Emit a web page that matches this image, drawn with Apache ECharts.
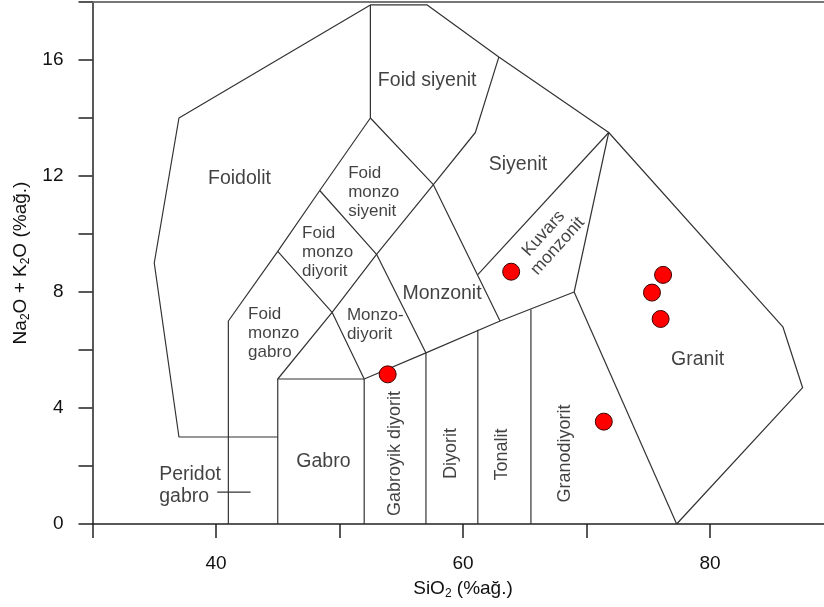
<!DOCTYPE html>
<html>
<head>
<meta charset="utf-8">
<script src="https://cdn.jsdelivr.net/npm/echarts@6/dist/echarts.min.js"></script>
<style>
  html,body{margin:0;padding:0;background:#fff;}
  .demo{width:824px;height:607px;}
</style>
</head>
<body>
<div class="demo"></div>
<script>
(function(){
  // field boundaries (SiO2, Na2O+K2O)
  const outerLine = [[77.3,0],[87.5,4.7],[85.9,6.8],[71.8,13.5],[62.9,16.1],[57.1,17.9],[52.5,17.9],[37,14],[35,9],[37,3],[45,3]]
  const foidLine1 = [[41,0],[41,7],[45,9.4],[48.4,11.5],[52.5,14],[52.5,17.9]]
  const foidLine2 = [[45,0],[45,5],[49.4,7.3],[53,9.3],[57.6,11.7],[61,13.5],[62.9,16.1]]
  const syeniteLine = [[52.5,14],[57.6,11.7],[63,7]]
  const monzoLine1 = [[45,9.4],[49.4,7.3],[52,5]]
  const monzoLine2 = [[48.4,11.5],[53,9.3],[57,5.9]]
  const baseLine = [[45,5],[52,5],[57,5.9],[63,7],[69,8],[71.8,13.5]]
  const gabroLine = [[52,0],[52,5]]
  const dioriteLine = [[57,0],[57,5.9]]
  const tonaliteLine = [[61.2,0],[61.2,6.7]]
  const granodioriteLine = [[65.5,0],[65.5,7.4]]
  const graniteLine = [[69,8],[77.3,0]]
  const qmonzLine = [[61.2,8.6],[71.8,13.5]]
  const peridotTick = [[40.1,1.1],[42.8,1.1]]
  const boundaries = [outerLine,foidLine1,foidLine2,syeniteLine,monzoLine1,monzoLine2,baseLine,
    gabroLine,dioriteLine,tonaliteLine,granodioriteLine,graniteLine,qmonzLine,peridotTick]

  // samples
  const sampleSiO2 = [63.9,53.9,76.2,75.3,76.0,71.4]
  const sampleAlkali = [8.7,5.16,8.59,7.98,7.07,3.53]

  // field names
  const bigNames = ['Foidolit','Foid siyenit','Siyenit','Monzonit','Gabro','Granit']
  const bigPos = [[41.9,11.9],[57.1,15.3],[64.45,12.38],[58.3,7.93],[48.7,2.14],[79.0,5.66]]
  const stackNames = ['Foid\nmonzo\nsiyenit','Foid\nmonzo\ndiyorit','Foid\nmonzo\ngabro','Monzo-\ndiyorit']
  const stackPos = [[50.7,11.45],[46.97,9.38],[42.6,6.59],[50.6,6.88]]
  const peridotName = 'Peridot\ngabro'
  const peridotPos = [35.4,1.31]
  const uprightNames = ['Gabroyik diyorit','Diyorit','Tonalit','Granodiyorit']
  const uprightPos = [[54.5,2.43],[59.0,2.43],[63.2,2.4],[68.3,2.43]]
  const slantName = 'Kuvars\nmonzonit'
  const slantPos = [67.1,9.8]

  const font = "'Liberation Sans', Arial, sans-serif"
  const ink = '#111'
  const chartinstance = echarts.init(document.querySelector('.demo'))

  const series = boundaries.map(b => ({
    type:'line',
    data:b,
    showSymbol:false,
    silent:true,
    lineStyle:{color:'#333',width:1.2},
    z:2
  }))

  const labelData = []
  bigNames.forEach((n,i)=>labelData.push({name:n,value:bigPos[i],label:{fontSize:19.5,position:'inside'}}))
  stackNames.forEach((n,i)=>labelData.push({name:n,value:stackPos[i],label:{fontSize:17,lineHeight:19,position:'right',distance:0,align:'left'}}))
  labelData.push({name:peridotName,value:peridotPos,label:{fontSize:19.5,lineHeight:22,position:'right',distance:0,align:'left'}})
  uprightNames.forEach((n,i)=>labelData.push({name:n,value:uprightPos[i],label:{fontSize:18,position:'inside',rotate:90}}))
  labelData.push({name:slantName,value:slantPos,label:{fontSize:17.5,lineHeight:19,position:'inside',rotate:48}})

  series.push({
    type:'scatter',
    data:labelData,
    symbolSize:0,
    silent:true,
    label:{show:true,formatter:p=>p.name,color:ink,fontFamily:font},
    z:3
  })

  series.push({
    type:'scatter',
    data:sampleSiO2.map((x,i)=>[x,sampleAlkali[i]]),
    symbolSize:17,
    itemStyle:{color:'#ff0000',borderColor:'#3a0000',borderWidth:1,opacity:1},
    z:5
  })

  const subStyle = {fontSize:12,lineHeight:12,verticalAlign:'bottom',color:ink,fontFamily:font}
  const option = {
    animation:false,
    grid:{left:92.5,right:-9.5,top:2,bottom:83,containLabel:false,outerBoundsMode:'none'},
    xAxis:[{
      type:'value',
      min:30,max:90,interval:10,
      name:'SiO{sub|2} (%ağ.)',
      nameLocation:'middle',
      nameGap:50,
      nameTextStyle:{fontSize:19,lineHeight:22,color:ink,fontFamily:font,rich:{sub:subStyle}},
      axisLine:{lineStyle:{color:'#222',width:1.5}},
      axisTick:{length:14,lineStyle:{color:'#222',width:1.5}},
      axisLabel:{margin:30,fontSize:19,color:ink,fontFamily:font,formatter:v=>v%20===0?String(v):''},
      splitLine:{show:false}
    },{
      type:'value',
      position:'top',
      min:30,max:90,
      axisLine:{show:true,lineStyle:{color:'#777',width:2}},
      axisTick:{show:false},
      axisLabel:{show:false},
      splitLine:{show:false}
    }],
    yAxis:{
      type:'value',
      min:0,max:18,interval:2,
      name:'Na{sub|2}O + K{sub|2}O (%ağ.)',
      nameLocation:'middle',
      nameRotate:90,
      nameGap:58,
      nameTextStyle:{fontSize:19,lineHeight:22,color:ink,fontFamily:font,rich:{sub:subStyle}},
      axisLine:{show:true,lineStyle:{color:'#222',width:1.5}},
      axisTick:{show:true,length:14,lineStyle:{color:'#222',width:1.5}},
      axisLabel:{margin:29,fontSize:19,color:ink,fontFamily:font,formatter:v=>v%4===0?String(v):''},
      splitLine:{show:false}
    },
    series:series
  }
  option && chartinstance.setOption(option)
})();
</script>
</body>
</html>
